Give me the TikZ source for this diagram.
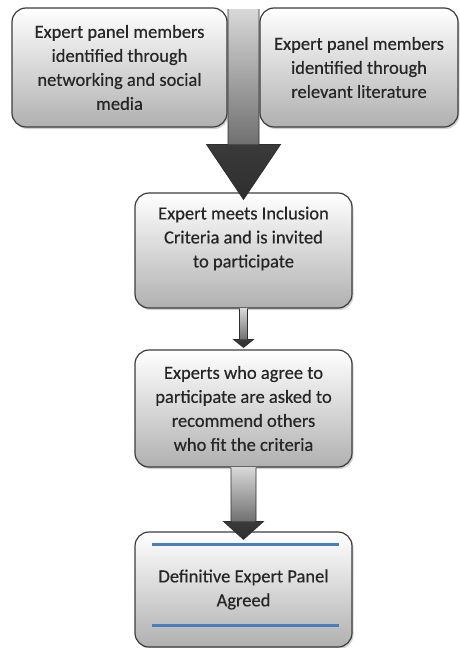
\documentclass[tikz,border=0pt]{standalone}
\usepackage{fontspec}
\setmainfont{Carlito}
\newfontfamily\boxfont{Carlito}[FakeBold=0.4]
\usetikzlibrary{calc,shadows}
\definecolor{boxline}{HTML}{3C3C3C}
\definecolor{boxbot}{HTML}{B0B0B0}
\definecolor{txtcol}{HTML}{262626}
\definecolor{blueline}{HTML}{4A7EBB}
\definecolor{arrowline}{HTML}{2E2E2E}
\definecolor{shafttop}{HTML}{D8D8D8}
\definecolor{shaftbot}{HTML}{707070}
\definecolor{headcol}{HTML}{3A3A3A}
\tikzset{
  box/.style={draw=boxline, line width=1.2pt, rounded corners=14pt,
    top color=white, bottom color=boxbot, inner sep=0pt,
    drop shadow={shadow xshift=1.5pt, shadow yshift=-2pt, opacity=0.35}},
  lbl/.style={align=center, text=txtcol, font=\boxfont\fontsize{18.5}{24}\selectfont},
  bluebar/.style={draw=blueline, line width=3pt},
}
% #1 from, #2 to, #3 shaft half width, #4 head half width, #5 head length
\newcommand{\blockarrow}[5]{%
  \shade[top color=shafttop, bottom color=shaftbot]
    let \p1=(#1), \p2=(#2) in (\x1-#3pt,\y1) rectangle (\x1+#3pt,\y2+#5pt);
  \shade[top color=headcol, bottom color=headcol!80!black]
    let \p1=(#1), \p2=(#2) in (\x1-#4pt,\y2+#5pt) -- (\x1,\y2) -- (\x1+#4pt,\y2+#5pt) -- cycle;
  \draw[arrowline, line width=0.8pt, line join=miter]
    let \p1=(#1), \p2=(#2) in (\x1-#3pt,\y1) -- (\x1-#3pt,\y2+#5pt) -- (\x1-#4pt,\y2+#5pt)
    -- (\x1,\y2) -- (\x1+#4pt,\y2+#5pt) -- (\x1+#3pt,\y2+#5pt) -- (\x1+#3pt,\y1);
}
\begin{document}
\begin{tikzpicture}[x=1pt,y=-1pt]
\useasboundingbox[fill=white] (0,0) rectangle (459,648);

\node[box, minimum width=217pt, minimum height=115pt] (b3) at (243.5,250.5) {};
\node[lbl] (t3) at ($(b3)+(0,-12)$) {Expert meets Inclusion\\Criteria and is invited\\to participate};

\node[box, lbl, minimum width=217pt, minimum height=117pt] (b4) at (243.5,408.5)
  {Experts who agree to\\participate are asked to\\recommend others\\who fit the criteria};

\node[box, lbl, minimum width=217pt, minimum height=115pt] (b5) at (243.5,589.5)
  {Definitive Expert Panel\\Agreed};
\draw[bluebar] ($(b5.north west)+(18,13)$) -- ($(b5.north east)+(-14,13)$);
\draw[bluebar] ($(b5.south west)+(18,-22)$) -- ($(b5.south east)+(-14,-22)$);

\coordinate (a0) at (243.5,9);
\coordinate (a0tip) at ($(b3.north)+(0,7)$);
\blockarrow{a0}{a0tip}{15.5}{37}{55}

\coordinate (a1) at (b3.south);
\coordinate (a1tip) at ($(b4.north)+(0,-2)$);
\blockarrow{a1}{a1tip}{4}{10}{8}

\coordinate (a2) at (b4.south);
\coordinate (a2tip) at ($(b5.north)+(0,8)$);
\blockarrow{a2}{a2tip}{12.5}{20}{18}

\node[box, lbl, minimum width=215pt, minimum height=119pt] (b1) at (119.5,67.5)
  {Expert panel members\\identified through\\networking and social\\media};
\node[box, lbl, minimum width=198pt, minimum height=119pt] (b2) at (359,67.5)
  {Expert panel members\\identified through\\relevant literature};
\end{tikzpicture}
\end{document}
